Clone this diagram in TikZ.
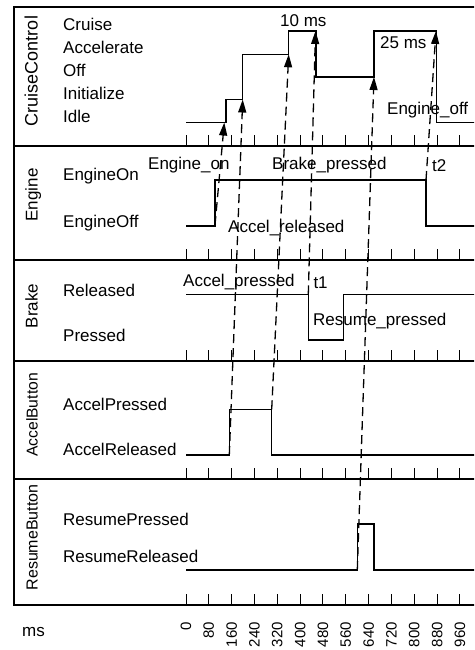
\documentclass[tikz,border=0pt]{standalone}
\usepackage{fontspec}
\setmainfont{Liberation Sans}
\usetikzlibrary{arrows.meta}
\begin{document}
\begin{tikzpicture}[x=1pt,y=-1pt,
  frame/.style={line width=2.5pt},
  sig/.style={line width=1.3pt, line join=miter},
  tickline/.style={line width=1pt},
  evt/.style={line width=1.3pt, dash pattern=on 9pt off 5pt, -{Triangle[length=13pt,width=8pt]}},
  lbl/.style={font=\fontsize{17}{20}\selectfont, inner sep=0pt, anchor=base west},
  panel/.style={font=\fontsize{#1}{20}\selectfont, inner sep=0pt, anchor=base, rotate=90},
  num/.style={font=\fontsize{15}{18}\selectfont, inner sep=0pt, anchor=east, rotate=90}]
\useasboundingbox (0,0) rectangle (474,650);
\clip (0,0) rectangle (474,650);
\fill[white] (0,0) rectangle (474,650);

% frame and dividers
\draw[frame] (490,7) -- (14,7) -- (14,605) -- (490,605);
\foreach \yy in {146,260,361,479} \draw[frame] (14,\yy) -- (490,\yy);

% ticks
\foreach \yy in {146,260,361,479,605}
  \foreach \i in {0,...,13} \draw[tickline] ({186+22.83*\i},\yy) -- ({186+22.83*\i},\yy-11);

% panel names
\node[panel=18] (pcc) at (37.5,71) {CruiseControl};
\node[panel=17] (peng) at (37.5,195) {Engine};
\node[panel=17] (pbrk) at (37.5,306) {Brake};
\node[panel=15.7] (pacc) at (37.5,415) {AccelButton};
\node[panel=16] (pres) at (37.5,537.5) {ResumeButton};

% state names
\node[lbl] (sCruise) at (63,31) {Cruise};
\node[lbl] (sAccel) at (63,54) {Accelerate};
\node[lbl] (sOff) at (63,76.5) {Off};
\node[lbl] (sInit) at (63,99.5) {Initialize};
\node[lbl] (sIdle) at (63,122.5) {Idle};
\node[lbl] (sEOn) at (63,180.5) {EngineOn};
\node[lbl] (sEOff) at (63,227) {EngineOff};
\node[lbl] (sRel) at (63,296) {Released};
\node[lbl] (sPr) at (63,341.5) {Pressed};
\node[lbl] (sAP) at (63,410) {AccelPressed};
\node[lbl] (sAR) at (63,455.5) {AccelReleased};
\node[lbl] (sRP) at (63,525) {ResumePressed};
\node[lbl] (sRR) at (63,562.5) {ResumeReleased};

% signals
\draw[sig] (186,122.5) -- (226,122.5) -- (226,99.5) -- (242.7,99.5) -- (242.7,54.3)
  -- (288.7,54.3) -- (288.7,31) -- (316,31) -- (316,77) -- (374,77) -- (374,31)
  -- (436.7,31) -- (436.7,122.5) -- (490,122.5);
\draw[sig] (186,226) -- (215,226) -- (215,180) -- (426,180) -- (426,226) -- (490,226);
\draw[sig] (186,294.3) -- (308.3,294.3) -- (308.3,340) -- (343.3,340) -- (343.3,294.3) -- (490,294.3);
\draw[sig] (186,455) -- (229.3,455) -- (229.3,409.3) -- (271.7,409.3) -- (271.7,455) -- (490,455);
\draw[sig] (186,570) -- (357.3,570) -- (357.3,524) -- (374,524) -- (374,570) -- (490,570);

% event labels
\node[lbl] (eEngOn) at (148,169) {Engine\_on};
\node[lbl] (eBrk) at (272,169) {Brake\_pressed};
\node[lbl] (eT2) at (432,171.5) {t2};
\node[lbl] (eAccRel) at (228,232.7) {Accel\_released};
\node[lbl] (eAccPr) at (183,286.7) {Accel\_pressed};
\node[lbl] (eT1) at (313.3,288) {t1};
\node[lbl] (eResPr) at (313,325) {Resume\_pressed};
\node[lbl] (eEngOff) at (387,115) {Engine\_off};
\node[lbl] (e10) at (280,26.7) {10 ms};
\node[lbl] (e25) at (380,49) {25 ms};

% event arrows
\coordinate (a1s) at (215,225);   \coordinate (a1e) at (224.3,122.5);
\coordinate (a2s) at (229.3,455); \coordinate (a2e) at (242.7,99.5);
\coordinate (a3s) at (271.7,409.3); \coordinate (a3e) at (288.7,54.3);
\coordinate (a4s) at (308.3,294.3); \coordinate (a4e) at (315.5,31);
\coordinate (a5s) at (357.3,570); \coordinate (a5e) at (374,77);
\coordinate (a6s) at (426,180);   \coordinate (a6e) at (436,31);
\foreach \k in {1,...,6} \draw[evt] (a\k s) -- (a\k e);

% axis
\node[lbl] (ms) at (22,636.5) {ms};
\foreach \t [count=\i from 0] in {0,80,160,240,320,400,480,560,640,720,800,880,960}
  \node[num] (n\i) at ({186+22.83*\i},622) {\t};
\end{tikzpicture}
\end{document}
